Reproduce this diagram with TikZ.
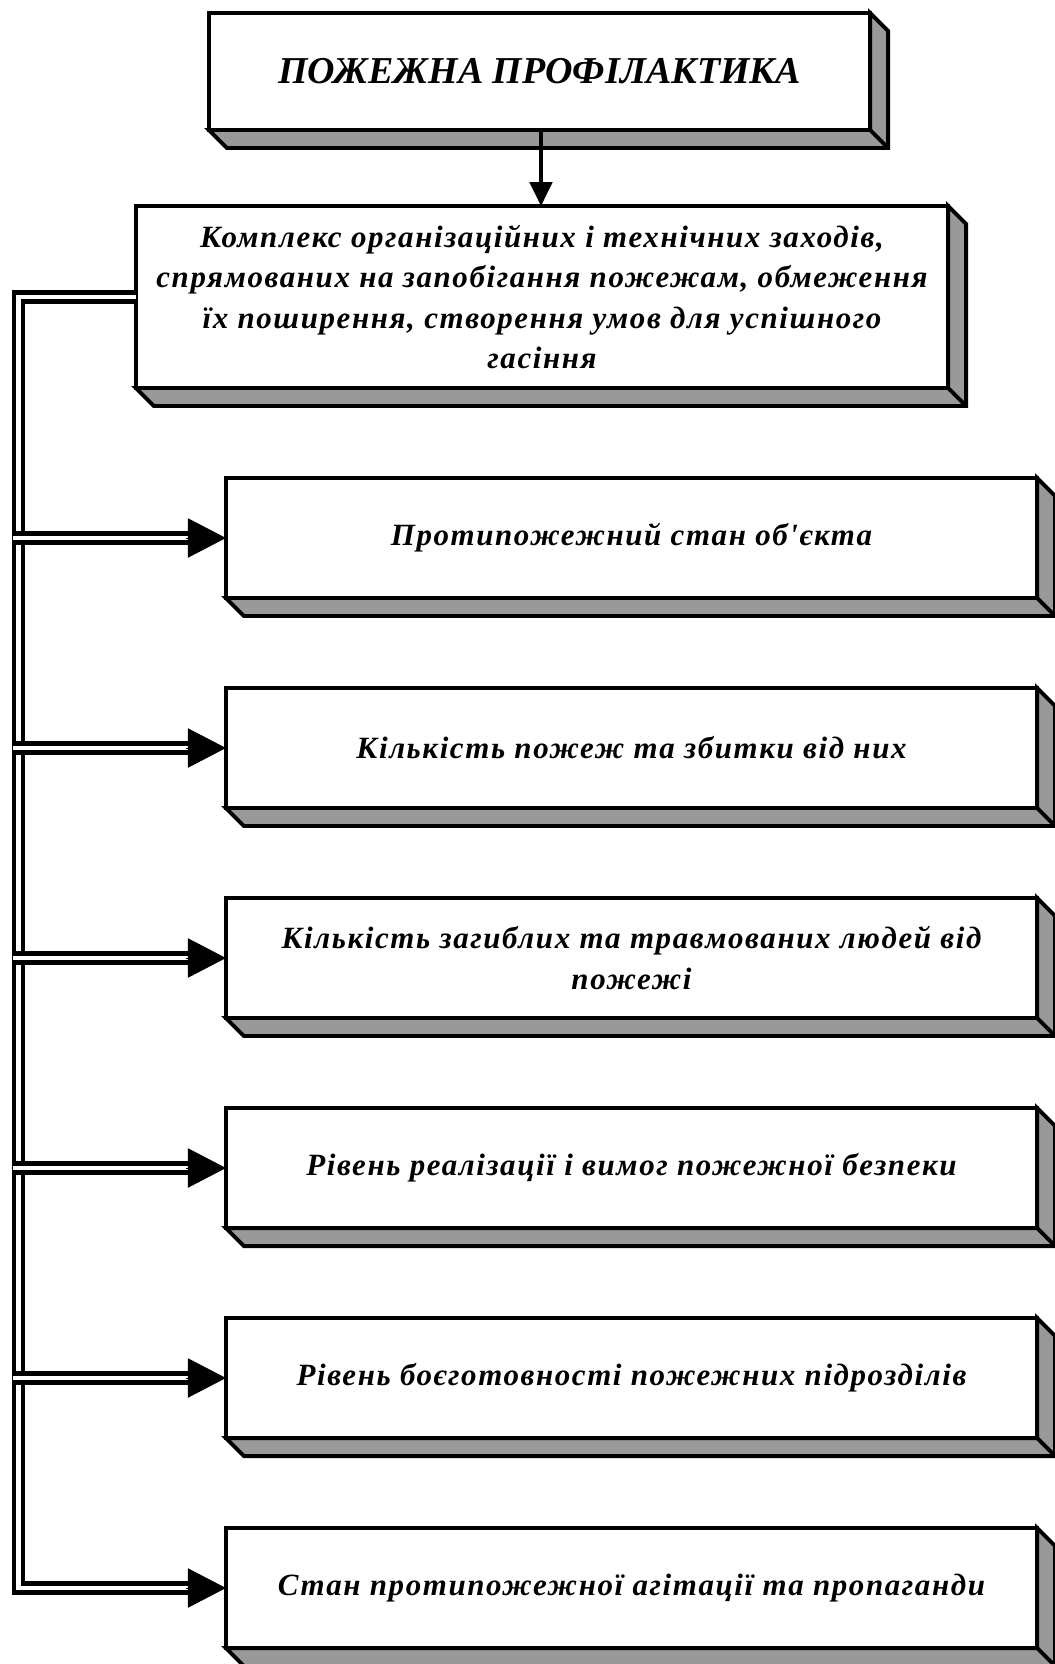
\documentclass[tikz,border=0pt]{standalone}
\usepackage{fontspec}
\setmainfont{Liberation Serif}
\newfontfamily\platefont[LetterSpace=5.2,Ligatures=TeXOff]{Liberation Serif}
\usetikzlibrary{arrows.meta,calc}

\tikzset{
  plate/.style={draw,line width=2.8pt,fill=white,inner sep=0pt,outer sep=0pt,align=center,
    font=\platefont\bfseries\itshape\fontsize{22}{28.6}\selectfont},
  side/.style={draw,line width=2.8pt,fill=black!40,line join=miter},
  link/.style={line width=3.1pt,double=white,double distance=3.1pt},
  head/.style={line width=0.4pt,-{Triangle[length=27pt,width=28pt]}},
  feed/.style={line width=2.4pt,-{Triangle[length=17pt,width=16pt]}},
}
\newcommand{\slab}[1]{%
  \draw[side] (#1.south west) -- ++(18,18) -| ($(#1.north east)+(18,18)$) -- (#1.north east) -- (#1.south east) -- cycle;
  \draw[side] (#1.south east) -- ++(18,18);}

\begin{document}
\begin{tikzpicture}[x=0.025cm,y=-0.025cm]
\useasboundingbox (0,0) rectangle (1054,1664);
\node[plate,minimum width=16.525cm,minimum height=2.925cm,font=\bfseries\itshape\fontsize{27}{32}\selectfont] (prof) at (539.5,71.5) {ПОЖЕЖНА ПРОФІЛАКТИКА};
\node[plate,minimum width=20.3cm,minimum height=4.55cm] (kompl) at (542,297) {Комплекс організаційних і технічних заходів,\\спрямованих на запобігання пожежам, обмеження\\їх поширення, створення умов для успішного\\гасіння};
\node[plate,minimum width=20.275cm,minimum height=3cm] (p1) at (631.5,538) {Протипожежний стан об'єкта};
\node[plate,minimum width=20.275cm,minimum height=3cm] (p2) at (631.5,748) {Кількість пожеж та збитки від них};
\node[plate,minimum width=20.275cm,minimum height=3cm] (p3) at (631.5,958) {Кількість загиблих та травмованих людей від\\пожежі};
\node[plate,minimum width=20.275cm,minimum height=3cm] (p4) at (631.5,1168) {Рівень реалізації і вимог пожежної безпеки};
\node[plate,minimum width=20.275cm,minimum height=3cm] (p5) at (631.5,1378) {Рівень боєготовності пожежних підрозділів};
\node[plate,minimum width=20.275cm,minimum height=3cm] (p6) at (631.5,1588) {Стан протипожежної агітації та пропаганди};
\slab{prof}
\slab{kompl}
\slab{p1}
\slab{p2}
\slab{p3}
\slab{p4}
\slab{p5}
\slab{p6}

\draw[feed] (prof.south -| 541,0) -- (kompl.north -| 541,0);

\coordinate (bus) at (18.5,297);
\coordinate (rail) at (12.5,0);
\draw[link,shorten >=20pt] (kompl.west) -- (bus) |- (p6.west);
\draw[link,shorten >=20pt] (rail |- p1.west) -- (p1.west);
\draw[link,shorten >=20pt] (rail |- p2.west) -- (p2.west);
\draw[link,shorten >=20pt] (rail |- p3.west) -- (p3.west);
\draw[link,shorten >=20pt] (rail |- p4.west) -- (p4.west);
\draw[link,shorten >=20pt] (rail |- p5.west) -- (p5.west);
\draw[head] ($(p1.west)+(-40,0)$) -- (p1.west);
\draw[head] ($(p2.west)+(-40,0)$) -- (p2.west);
\draw[head] ($(p3.west)+(-40,0)$) -- (p3.west);
\draw[head] ($(p4.west)+(-40,0)$) -- (p4.west);
\draw[head] ($(p5.west)+(-40,0)$) -- (p5.west);
\draw[head] ($(p6.west)+(-40,0)$) -- (p6.west);
\end{tikzpicture}
\end{document}
